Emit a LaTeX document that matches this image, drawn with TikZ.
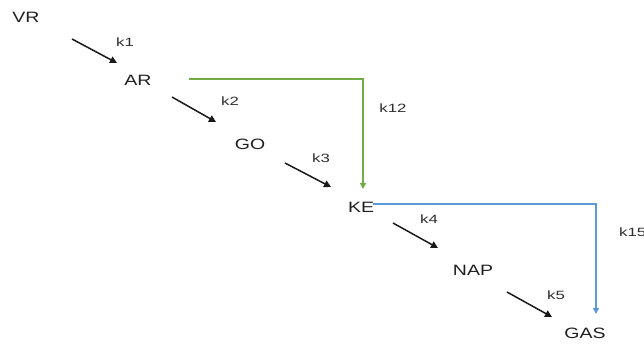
\documentclass[tikz,border=0pt]{standalone}
\usepackage{fontspec}
\setmainfont{Liberation Sans}
\usetikzlibrary{arrows.meta}
\newcommand{\widetxt}[2]{\scalebox{#1}[1]{#2}}
\definecolor{pathgreen}{HTML}{70AD47}
\definecolor{pathblue}{HTML}{5B9BD5}
\begin{document}
\begin{tikzpicture}[x=1pt,y=-1pt,
  species/.style={inner sep=0pt, text=black!88, font=\fontsize{15}{15}\selectfont},
  rate/.style={inner sep=0pt, text=black!82, font=\fontsize{12}{12}\selectfont},
  rxn/.style={draw=black!90, line width=1.5pt, -{Triangle[length=7pt,width=7pt]}},
  greenpath/.style={draw=pathgreen, line width=1.4pt, -{Triangle[length=6pt,width=6pt]}},
  bluepath/.style={draw=pathblue, line width=1.4pt, -{Triangle[length=6pt,width=6pt]}}]
\useasboundingbox (0,0) rectangle (644,343);
% species
\node[species] (VR)  at (26,17.5) {\widetxt{1.3}{VR}};
\node[species] (AR)  at (138,80)  {\widetxt{1.3}{AR}};
\node[species] (GO)  at (250,144) {\widetxt{1.3}{GO}};
\node[species] (KE)  at (361,207) {\widetxt{1.3}{KE}};
\node[species] (NAP) at (473,270) {\widetxt{1.3}{NAP}};
\node[species] (GAS) at (585,333) {\widetxt{1.3}{GAS}};
% rate labels
\node[rate] (k1)  at (125,42)  {\widetxt{1.4}{k1}};
\node[rate] (k2)  at (230,101) {\widetxt{1.4}{k2}};
\node[rate] (k3)  at (321,158) {\widetxt{1.4}{k3}};
\node[rate] (k4)  at (429,219) {\widetxt{1.4}{k4}};
\node[rate] (k5)  at (556,295) {\widetxt{1.4}{k5}};
\node[rate] (k12) at (393,108) {\widetxt{1.4}{k12}};
\node[rate,anchor=west] (k15) at (619,232) {\widetxt{1.4}{k15}};
% arrow end points
\coordinate (a1s) at (72,39);   \coordinate (a1e) at (117,63);
\coordinate (a2s) at (172,97);  \coordinate (a2e) at (216,122);
\coordinate (a3s) at (285,163); \coordinate (a3e) at (331,187);
\coordinate (a4s) at (393,223); \coordinate (a4e) at (438,248);
\coordinate (a5s) at (507,292); \coordinate (a5e) at (552,317);
\coordinate (gs) at (189,79);   \coordinate (gc) at (363,79);  \coordinate (ge) at (363,189);
\coordinate (bs) at (373,204);  \coordinate (bc) at (596,204); \coordinate (be) at (596,314);
% connectors
\draw[rxn] (a1s) -- (a1e);
\draw[rxn] (a2s) -- (a2e);
\draw[rxn] (a3s) -- (a3e);
\draw[rxn] (a4s) -- (a4e);
\draw[rxn] (a5s) -- (a5e);
\draw[greenpath] (gs) -- (gc) -- (ge);
\draw[bluepath] (bs) -- (bc) -- (be);
\end{tikzpicture}
\end{document}
